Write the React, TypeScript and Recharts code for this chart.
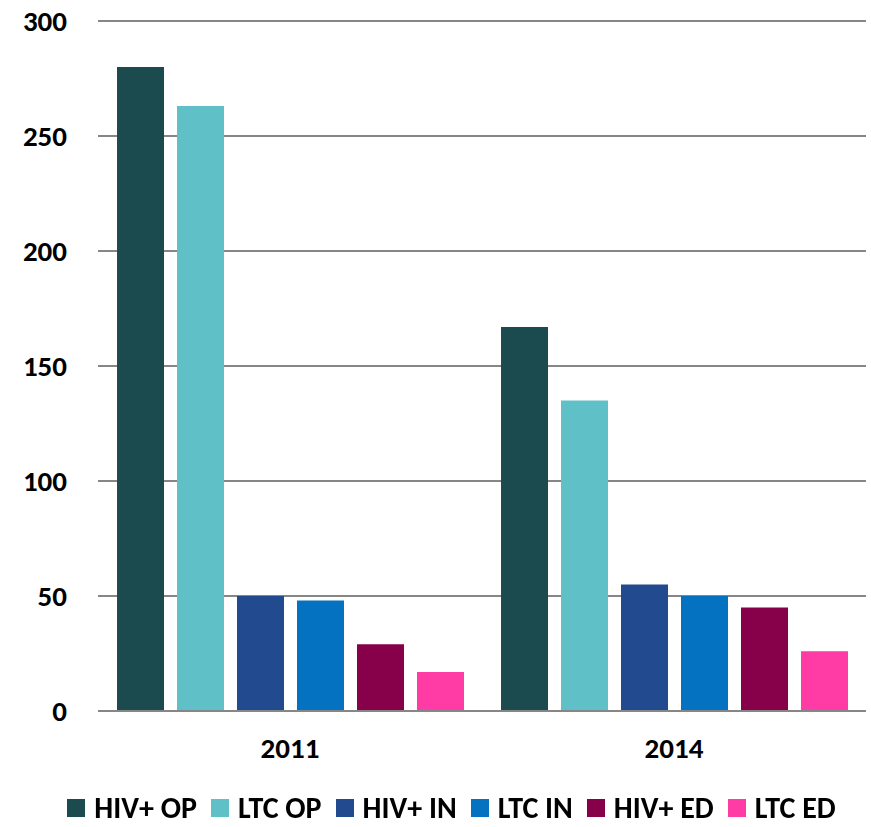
import { Bar, BarChart, CartesianGrid, Legend, XAxis, YAxis } from "recharts";

const years = ["2011", "2014"];
const hivOp = [280, 167];
const ltcOp = [263, 135];
const hivIn = [50, 55];
const ltcIn = [48, 50];
const hivEd = [29, 45];
const ltcEd = [17, 26];
const yTicks = [0, 50, 100, 150, 200, 250, 300];

const series = [
  { key: "hivOp", name: "HIV+ OP", color: "#1c4b4f", values: hivOp },
  { key: "ltcOp", name: "LTC OP", color: "#5fc0c8", values: ltcOp },
  { key: "hivIn", name: "HIV+ IN", color: "#214b8e", values: hivIn },
  { key: "ltcIn", name: "LTC IN", color: "#0472c1", values: ltcIn },
  { key: "hivEd", name: "HIV+ ED", color: "#86004a", values: hivEd },
  { key: "ltcEd", name: "LTC ED", color: "#ff3ba6", values: ltcEd },
];

const data = years.map((year, i) => {
  const row: Record<string, string | number> = { year };
  series.forEach((s) => {
    row[s.key] = s.values[i];
  });
  return row;
});

const font = "Carlito, Calibri, Lato, sans-serif";

function LegendContent() {
  return (
    <div
      style={{
        display: "flex",
        justifyContent: "center",
        alignItems: "center",
        fontFamily: font,
        fontWeight: 700,
        fontSize: 30,
        lineHeight: "36px",
        color: "#000",
      }}
    >
      {series.map((s, i) => (
        <div key={s.key} style={{ display: "flex", alignItems: "center", marginRight: i < series.length - 1 ? 14 : 0 }}>
          <span style={{ display: "inline-block", width: 18, height: 18, background: s.color, marginRight: 9 }} />
          <span>{s.name}</span>
        </div>
      ))}
    </div>
  );
}

export default function App() {
  return (
    <div style={{ position: "fixed", left: 0, top: 0, width: 871, height: 827, background: "#fff" }}>
      <BarChart
        width={871}
        height={827}
        data={data}
        margin={{ top: 21, right: 5, left: 0, bottom: 50 }}
        barCategoryGap={19}
        barGap={13}
      >
        <CartesianGrid vertical={false} stroke="#868686" strokeWidth={2} />
        <XAxis
          dataKey="year"
          axisLine={{ stroke: "#868686", strokeWidth: 2 }}
          tickLine={false}
          tickSize={0}
          tickMargin={26}
          tick={{ fill: "#000", fontSize: 29, fontWeight: 700, fontFamily: font }}
        />
        <YAxis
          width={98}
          domain={[0, 300]}
          ticks={yTicks}
          axisLine={false}
          tickLine={false}
          tickSize={0}
          tickMargin={31}
          tick={{ fill: "#000", fontSize: 29, fontWeight: 700, fontFamily: font }}
        />
        <Legend verticalAlign="bottom" wrapperStyle={{ bottom: 1, left: 0, width: 903 }} content={<LegendContent />} />
        {series.map((s) => (
          <Bar key={s.key} dataKey={s.key} name={s.name} fill={s.color} isAnimationActive={false} />
        ))}
      </BarChart>
    </div>
  );
}
